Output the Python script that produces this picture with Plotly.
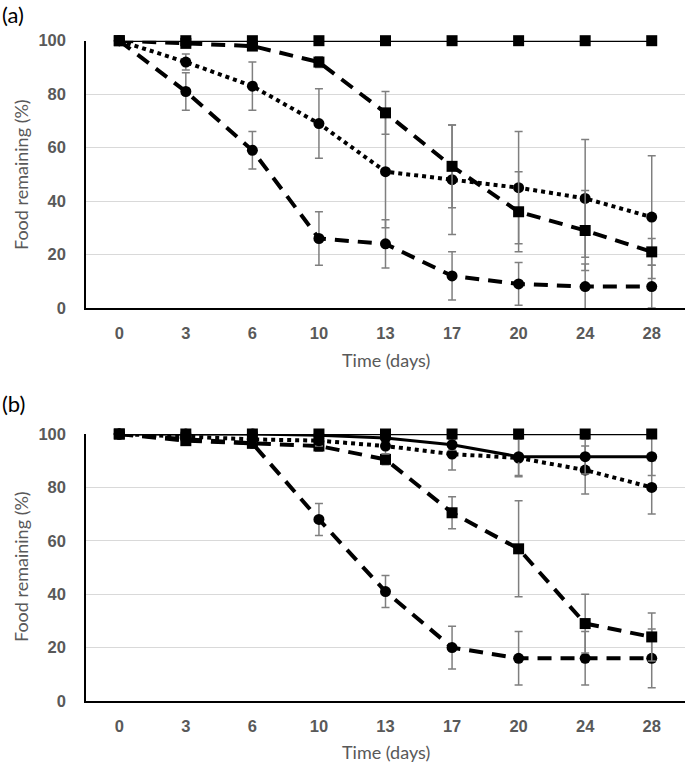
import plotly.graph_objects as go

days = ["0", "3", "6", "10", "13", "17", "20", "24", "28"]
y_ticks = [0, 20, 40, 60, 80, 100]

# Panel (a)
a_ctrl = [100, 100, 100, 100, 100, 100, 100, 100, 100]
a_sq_dash = [100, 99, 98, 92, 73, 53, 36, 29, 21]
a_sq_dash_err = [0, 1, 1, 2, 8, 15.5, 15, 15, 5]
a_dot_circ = [100, 92, 83, 69, 51, 48, 45, 41, 34]
a_dot_circ_err = [0, 3, 9, 13, 21, 20.5, 21, 22, 23]
a_dash_circ = [100, 81, 59, 26, 24, 12, 9, 8, 8]
a_dash_circ_err = [0, 7, 7, 10, 9, 9, 8, 8.5, 8]

# Panel (b)
b_ctrl = [100, 100, 100, 100, 100, 100, 100, 100, 100]
b_solid_circ = [100, 100, 100, 99.5, 98.5, 96, 91.5, 91.5, 91.5]
b_solid_circ_err = [0, 0, 0, 1, 1, 2, 7, 6.5, 7]
b_dot_circ = [100, 99, 98, 97.5, 95.5, 92.5, 91, 86.5, 80]
b_dot_circ_err = [0, 1, 1, 2, 3, 6, 7, 9, 10]
b_sq_dash = [100, 97.5, 96.5, 95.5, 90.5, 70.5, 57, 29, 24]
b_sq_dash_err = [0, 1, 1, 2, 2, 6, 18, 11, 9]
b_dash_circ = [100, 98, 96.5, 68, 41, 20, 16, 16, 16]
b_dash_circ_err = [0, 1, 1, 6, 6, 8, 10, 10, 11]

ERR_COLOR = "#7f7f7f"
DASH = "14px,9px"
DOT = "4px,4px"


def err(arr):
    return dict(type="data", array=arr, color=ERR_COLOR, thickness=1.5, width=4, visible=True)


fig = go.Figure()


def add(y, e, dash, width, symbol, xa, ya):
    fig.add_trace(go.Scatter(
        x=days, y=y, mode="lines+markers", xaxis=xa, yaxis=ya,
        line=dict(color="black", width=width, dash=dash),
        marker=dict(symbol=symbol, size=11, color="black"),
        error_y=err(e) if e is not None else None,
        cliponaxis=False, showlegend=False,
    ))


# Panel (a)
add(a_dash_circ, a_dash_circ_err, DASH, 4, "circle", "x", "y")
add(a_dot_circ, a_dot_circ_err, DOT, 4, "circle", "x", "y")
add(a_sq_dash, a_sq_dash_err, DASH, 4, "square", "x", "y")
add(a_ctrl, None, "solid", 2.4, "square", "x", "y")

# Panel (b)
add(b_dash_circ, b_dash_circ_err, DASH, 4, "circle", "x2", "y2")
add(b_sq_dash, b_sq_dash_err, DASH, 4, "square", "x2", "y2")
add(b_dot_circ, b_dot_circ_err, DOT, 4, "circle", "x2", "y2")
add(b_solid_circ, b_solid_circ_err, "solid", 3, "circle", "x2", "y2")
add(b_ctrl, None, "solid", 2.4, "square", "x2", "y2")

W, H = 685, 762
x_dom = [86 / W, 1.0]
ya_dom = [1 - 308 / H, 1 - 40.7 / H]
yb_dom = [1 - 701 / H, 1 - 434 / H]

tick_font = dict(family="Liberation Sans, Arial, sans-serif", size=16.5, color="#595959", weight="bold")

xcommon = dict(
    type="category", range=[-0.5, 8.5], showline=True, linecolor="black", linewidth=2,
    showgrid=False, ticks="", tickfont=tick_font, ticklabelstandoff=9, zeroline=False,
    domain=x_dom, fixedrange=True, automargin=False,
)
ycommon = dict(
    range=[0, 100], tickvals=y_ticks, showline=True, linecolor="black", linewidth=1.5,
    showgrid=True, gridcolor="#d9d9d9", gridwidth=1, ticks="", tickfont=tick_font,
    ticklabelstandoff=15, zeroline=False, automargin=False, fixedrange=True,
)

fig.update_layout(
    width=W, height=H, margin=dict(l=0, r=0, t=0, b=0, pad=0, autoexpand=False),
    paper_bgcolor="white", plot_bgcolor="white",
    xaxis=dict(**xcommon, anchor="y"),
    yaxis=dict(**ycommon, domain=ya_dom, anchor="x"),
    xaxis2=dict(**xcommon, anchor="y2"),
    yaxis2=dict(**ycommon, domain=yb_dom, anchor="x2"),
)

title_font = dict(family="Lato, Open Sans, sans-serif", size=18, color="#595959")
panel_font = dict(family="Lato, Open Sans, sans-serif", size=22, color="black")

annotations = [
    dict(text="(a)", x=0, y=1 - 14 / H, xanchor="left", yanchor="middle", font=panel_font),
    dict(text="(b)", x=0, y=1 - 403 / H, xanchor="left", yanchor="middle", font=panel_font),
    dict(text="Time (days)", x=386 / W, y=1 - 360 / H, xanchor="center", yanchor="middle", font=title_font),
    dict(text="Time (days)", x=386 / W, y=1 - 752 / H, xanchor="center", yanchor="middle", font=title_font),
    dict(text="Food remaining (%)", x=21 / W, y=1 - 175 / H, xanchor="center", yanchor="middle",
         textangle=-90, font=title_font),
    dict(text="Food remaining (%)", x=21 / W, y=1 - 567 / H, xanchor="center", yanchor="middle",
         textangle=-90, font=title_font),
]
for a in annotations:
    a.update(xref="paper", yref="paper", showarrow=False)
fig.update_layout(annotations=annotations)

fig.write_html(
    "out.html",
    config={"displayModeBar": False},
    post_script="document.body.style.margin='0';document.body.style.overflow='hidden';",
)
